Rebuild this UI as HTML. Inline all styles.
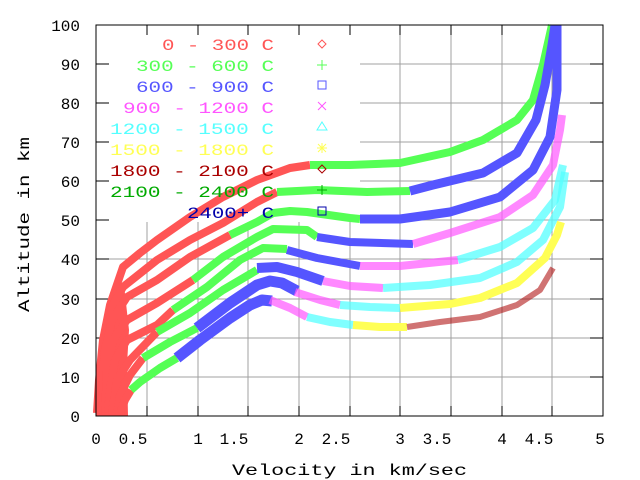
<!DOCTYPE html>
<html><head><meta charset="utf-8"><style>
html,body{margin:0;padding:0;background:#fff;}
svg{display:block;}
text{font-family:"Liberation Mono",monospace;font-size:16px;}
</style></head><body>
<svg width="640" height="480" viewBox="0 0 640 480" xmlns="http://www.w3.org/2000/svg">
<rect width="640" height="480" fill="#fff"/>
<!-- grid -->
<g stroke="#a0a0a0" stroke-width="1">
<line x1="147" y1="25" x2="147" y2="416"/><line x1="198" y1="25" x2="198" y2="416"/>
<line x1="248" y1="25" x2="248" y2="416"/><line x1="299" y1="25" x2="299" y2="416"/>
<line x1="350" y1="25" x2="350" y2="416"/><line x1="400" y1="25" x2="400" y2="416"/>
<line x1="451" y1="25" x2="451" y2="416"/><line x1="502" y1="25" x2="502" y2="416"/>
<line x1="552" y1="25" x2="552" y2="416"/>
<line x1="96" y1="377" x2="603" y2="377"/><line x1="96" y1="338" x2="603" y2="338"/>
<line x1="96" y1="299" x2="603" y2="299"/><line x1="96" y1="259" x2="603" y2="259"/>
<line x1="96" y1="220" x2="603" y2="220"/><line x1="96" y1="181" x2="603" y2="181"/>
<line x1="96" y1="142" x2="603" y2="142"/><line x1="96" y1="103" x2="603" y2="103"/>
<line x1="96" y1="64" x2="603" y2="64"/>
</g>
<rect x="97" y="26" width="263" height="196" fill="#fff"/>
<!-- ticks -->
<g stroke="#000" stroke-width="1">
<line x1="147" y1="25" x2="147" y2="35"/><line x1="198" y1="25" x2="198" y2="35"/><line x1="248" y1="25" x2="248" y2="35"/><line x1="299" y1="25" x2="299" y2="35"/><line x1="350" y1="25" x2="350" y2="35"/><line x1="400" y1="25" x2="400" y2="35"/><line x1="451" y1="25" x2="451" y2="35"/><line x1="502" y1="25" x2="502" y2="35"/><line x1="552" y1="25" x2="552" y2="35"/>
<line x1="147" y1="416" x2="147" y2="406"/><line x1="198" y1="416" x2="198" y2="406"/><line x1="248" y1="416" x2="248" y2="406"/><line x1="299" y1="416" x2="299" y2="406"/><line x1="350" y1="416" x2="350" y2="406"/><line x1="400" y1="416" x2="400" y2="406"/><line x1="451" y1="416" x2="451" y2="406"/><line x1="502" y1="416" x2="502" y2="406"/><line x1="552" y1="416" x2="552" y2="406"/>
<line x1="96" y1="377" x2="109" y2="377"/><line x1="96" y1="338" x2="109" y2="338"/><line x1="96" y1="299" x2="109" y2="299"/><line x1="96" y1="259" x2="109" y2="259"/><line x1="96" y1="220" x2="109" y2="220"/><line x1="96" y1="181" x2="109" y2="181"/><line x1="96" y1="142" x2="109" y2="142"/><line x1="96" y1="103" x2="109" y2="103"/><line x1="96" y1="64" x2="109" y2="64"/>
<line x1="603" y1="377" x2="590" y2="377"/><line x1="603" y1="338" x2="590" y2="338"/><line x1="603" y1="299" x2="590" y2="299"/><line x1="603" y1="259" x2="590" y2="259"/><line x1="603" y1="220" x2="590" y2="220"/><line x1="603" y1="181" x2="590" y2="181"/><line x1="603" y1="142" x2="590" y2="142"/><line x1="603" y1="103" x2="590" y2="103"/><line x1="603" y1="64" x2="590" y2="64"/>
</g>
<!-- curves -->
<g fill="none" stroke-linejoin="round" stroke-width="8">
<polygon points="96,416 97,380 101,340 111,302 124,285 129,330 127,365 128,416" fill="#ff5555" stroke="none"/>
<polyline stroke="#ff5555" points="97,413 99,380 103,340 110,305 123,267 140,253 157,240 190,217 223,197 257,180 290,168 310,165"/>
<polyline stroke="#55ff55" points="310,165 350,165 400,163 450,152 483,140 517,120 533,100 543,65 552,25"/>
<polyline stroke="#ff5555" points="100,413 100,380 103,345 110,310 123,287 157,260 190,240 223,223 257,202 277,192"/>
<polyline stroke="#55ff55" points="277,192 317,190 367,192 410,191"/>
<polyline stroke="#5555ff" stroke-width="9" points="410,191 433,185 483,173 517,153 536,120 545,85 552,45 555,25"/>
<polyline stroke="#ff5555" points="103,413 102,385 105,350 112,320 127,297 157,280 190,257 230,235"/>
<polyline stroke="#55ff55" points="230,235 257,222 273,213 290,211 307,212 350,218 360,219"/>
<polyline stroke="#5555ff" stroke-width="9" points="360,219 400,219 450,212 500,197 533,170 550,137 557,90 557,25"/>
<polyline stroke="#ff5555" points="105,413 107,370 113,340 127,320 157,303 193,280"/>
<polyline stroke="#55ff55" points="193,280 223,257 257,237 273,229 307,230 317,237"/>
<polyline stroke="#5555ff" points="317,237 350,242 413,244"/>
<polyline stroke="#ff55ff" stroke-opacity="0.7" points="413,244 450,233 500,217 533,195 553,165 560,130 562,115"/>
<polyline stroke="#ff5555" points="108,413 110,390 115,360 127,340 157,325 173,310"/>
<polyline stroke="#55ff55" points="173,310 207,287 240,260 263,248 287,249"/>
<polyline stroke="#5555ff" points="287,250 317,258 360,266"/>
<polyline stroke="#ff55ff" stroke-opacity="0.7" points="360,266 400,266 458,260"/>
<polyline stroke="#55ffff" stroke-opacity="0.75" points="458,260 500,247 533,228 555,200 563,165"/>
<polyline stroke="#ff5555" points="112,413 117,380 130,360 157,332"/>
<polyline stroke="#55ff55" points="157,332 190,313 223,290 257,270"/>
<polyline stroke="#5555ff" stroke-width="10" points="257,268 277,267 297,272 323,281"/>
<polyline stroke="#ff55ff" stroke-opacity="0.7" points="323,281 350,286 383,288"/>
<polyline stroke="#55ffff" stroke-opacity="0.75" points="383,288 430,285 480,278 517,262 543,240 560,207 565,172"/>
<polyline stroke="#ff5555" points="117,413 120,395 130,375 143,358"/>
<polyline stroke="#55ff55" points="143,358 170,342 197,328"/>
<polyline stroke="#5555ff" stroke-width="11" points="197,328 230,303 257,285 270,281 282,283 297,291"/>
<polyline stroke="#ff55ff" stroke-opacity="0.7" points="295,292 320,300 340,305"/>
<polyline stroke="#55ffff" stroke-opacity="0.75" points="340,305 370,307 400,308"/>
<polyline stroke="#ffff55" points="400,308 450,304 480,298 517,283 545,258 557,235 561,222"/>
<polyline stroke="#ff5555" points="120,413 125,400 131,390"/>
<polyline stroke="#55ff55" points="131,390 140,382 160,368 177,358"/>
<polyline stroke="#5555ff" stroke-width="11" points="177,358 200,340 230,318 250,305 262,300 272,301"/>
<polyline stroke="#ff55ff" stroke-opacity="0.7" points="270,300 290,308 307,317"/>
<polyline stroke="#55ffff" stroke-opacity="0.75" points="307,317 330,322 353,325"/>
<polyline stroke="#ffff55" points="353,325 380,327 407,327"/>
<polyline stroke="#aa0000" stroke-width="6" stroke-opacity="0.55" points="407,327 440,322 480,317 517,305 540,290 553,268"/>
</g>
<rect x="96" y="25" width="507" height="391" fill="none" stroke="#000" stroke-width="1"/>
<!-- legend -->
<g>
<text x="162" y="50" fill="#ff5555" textLength="112" lengthAdjust="spacingAndGlyphs">0 - 300 C</text>
<text x="136" y="71" fill="#55ff55" textLength="138" lengthAdjust="spacingAndGlyphs">300 - 600 C</text>
<text x="136" y="92" fill="#5555ff" textLength="138" lengthAdjust="spacingAndGlyphs">600 - 900 C</text>
<text x="123" y="113" fill="#ff55ff" textLength="151" lengthAdjust="spacingAndGlyphs">900 - 1200 C</text>
<text x="110" y="134" fill="#55ffff" textLength="164" lengthAdjust="spacingAndGlyphs">1200 - 1500 C</text>
<text x="110" y="155" fill="#ffff55" textLength="164" lengthAdjust="spacingAndGlyphs">1500 - 1800 C</text>
<text x="110" y="176" fill="#aa0000" textLength="164" lengthAdjust="spacingAndGlyphs">1800 - 2100 C</text>
<text x="110" y="197" fill="#00aa00" textLength="164" lengthAdjust="spacingAndGlyphs">2100 - 2400 C</text>
<text x="187" y="218" fill="#0000aa" textLength="87" lengthAdjust="spacingAndGlyphs">2400+ C</text>
</g>
<g fill="none" stroke-width="1">
<polygon points="322,40 326,44 322,48 318,44" stroke="#ff5555"/>
<path d="M317,65 h10 M322,60 v10" stroke="#55ff55"/>
<rect x="318" y="81" width="8" height="8" stroke="#5555ff"/>
<path d="M318,102 l8,8 M326,102 l-8,8" stroke="#ff55ff"/>
<polygon points="322,122 327,130 317,130" stroke="#55ffff"/>
<path d="M317,148 h10 M322,143 v10 M318,144 l8,8 M326,144 l-8,8" stroke="#ffff55"/>
<polygon points="322,165 326,169 322,173 318,169" stroke="#aa0000"/>
<path d="M317,190 h10 M322,185 v10" stroke="#00aa00"/>
<rect x="318" y="207" width="8" height="8" stroke="#0000aa"/>
</g>
<g fill="#000" text-anchor="end">
<text x="80" y="31">100</text><text x="80" y="70">90</text><text x="80" y="109">80</text><text x="80" y="148">70</text><text x="80" y="187">60</text><text x="80" y="226">50</text><text x="80" y="265">40</text><text x="80" y="305">30</text><text x="80" y="344">20</text><text x="80" y="383">10</text><text x="80" y="422">0</text>
</g>
<g fill="#000" text-anchor="middle">
<text x="96" y="444">0</text><text x="133" y="444">0.5</text><text x="198" y="444">1</text><text x="234" y="444">1.5</text><text x="299" y="444">2</text><text x="336" y="444">2.5</text><text x="400" y="444">3</text><text x="437" y="444">3.5</text><text x="502" y="444">4</text><text x="539" y="444">4.5</text><text x="600" y="444">5</text>
</g>
<text x="232" y="475" fill="#000" textLength="235" lengthAdjust="spacingAndGlyphs">Velocity in km/sec</text>
<text transform="translate(29,312) rotate(-90)" fill="#000" textLength="175" lengthAdjust="spacingAndGlyphs">Altitude in km</text>
</svg>
</body></html>
